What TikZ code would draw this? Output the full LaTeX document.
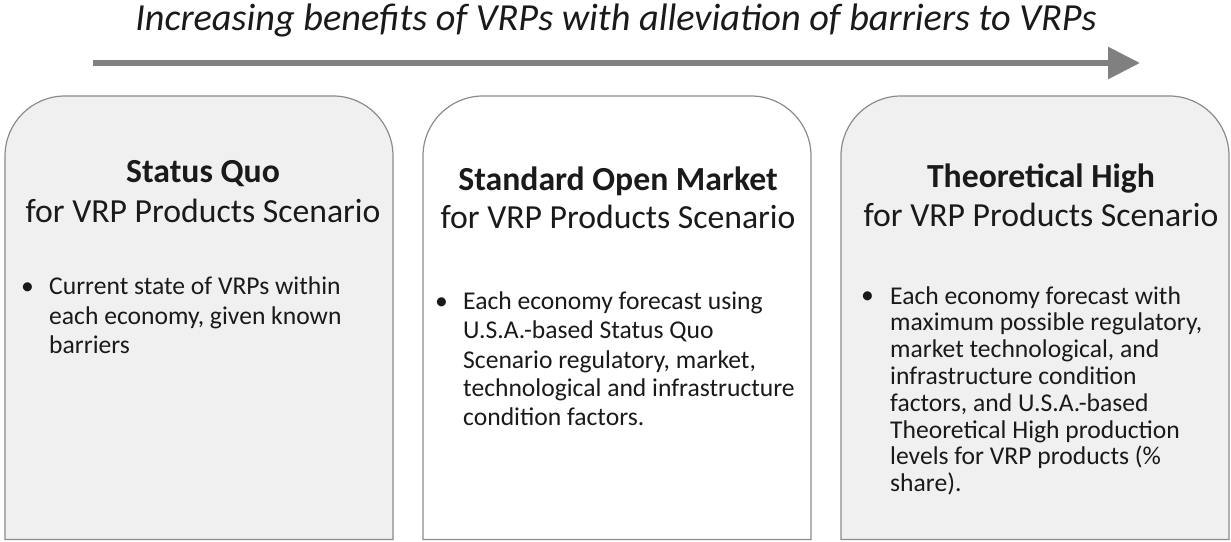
\documentclass[tikz,border=0pt]{standalone}
\usepackage{fontspec}
\setmainfont{Carlito}
\usetikzlibrary{arrows.meta}
\definecolor{panelfill}{HTML}{F0F0F0}
\definecolor{panelline}{HTML}{8C8C8C}
\definecolor{arrowgray}{HTML}{808080}
\definecolor{inktext}{HTML}{1A1A1A}
\tikzset{
  panel/.style={draw=panelline, line width=1.2pt},
  trendarrow/.style={draw=arrowgray, line width=6pt, -{Triangle[length=32pt, width=31pt]}},
  titletext/.style={font=\itshape\fontsize{38.3}{44}\selectfont, text=inktext, inner sep=0pt, anchor=base},
  headmain/.style={font=\bfseries\fontsize{33.7}{40}\selectfont, text=inktext, inner sep=0pt, anchor=base},
  headsub/.style={font=\fontsize{33.7}{40}\selectfont, text=inktext, inner sep=0pt, anchor=base},
  bulletmark/.style={font=\fontsize{25.6}{29}\selectfont, text=inktext, inner sep=0pt, anchor=base west},
  % anchored at the baseline of the last line
  bullettext/.style={font=\fontsize{25.6}{#1}\selectfont, text=inktext, align=left, inner sep=0pt, anchor=base west}
}
\begin{document}
\begin{tikzpicture}[x=1pt, y=1pt]
\useasboundingbox (0,0) rectangle (1231,541);
\fill[white] (0,0) rectangle (1231,541);

% trend arrow across the top
\coordinate (arrowstart) at (93,478);
\coordinate (arrowend) at (1140,478);
\draw[trendarrow] (arrowstart) -- (arrowend);
\node[titletext] (title) at (616,510) {Increasing benefits of VRPs with alleviation of barriers to VRPs};

% three scenario panels, rounded at the top only
\draw[panel, fill=panelfill] (5,1.5) -- (5,385) arc[start angle=180, end angle=90, radius=60]
  -- (333,445) arc[start angle=90, end angle=0, radius=60] -- (393,1.5) -- cycle;
\draw[panel, fill=white] (423,1.5) -- (423,385) arc[start angle=180, end angle=90, radius=60]
  -- (751,445) arc[start angle=90, end angle=0, radius=60] -- (811,1.5) -- cycle;
\draw[panel, fill=panelfill] (841,1.5) -- (841,385) arc[start angle=180, end angle=90, radius=60]
  -- (1169,445) arc[start angle=90, end angle=0, radius=60] -- (1229,1.5) -- cycle;

% status quo
\node[headmain] (sqhead) at (203,358) {Status Quo};
\node[headsub] (sqsub) at (203,318) {for VRP Products Scenario};
\node[bulletmark] (sqdot) at (21,246) {•};
\node[bullettext=29.5] (sqtext) at (49,187) {Current state of VRPs within\\each economy, given known\\barriers};

% standard open market
\node[headmain] (omhead) at (618,350) {Standard Open Market};
\node[headsub] (omsub) at (618,312) {for VRP Products Scenario};
\node[bulletmark] (omdot) at (435,231) {•};
\node[bullettext=29] (omtext) at (463,115) {Each economy forecast using\\U.S.A.-based Status Quo\\Scenario regulatory, market,\\technological and infrastructure\\condition factors.};

% theoretical high
\node[headmain] (thhead) at (1041,353) {Theoretical High};
\node[headsub] (thsub) at (1041,314) {for VRP Products Scenario};
\node[bulletmark] (thdot) at (861,237) {•};
\node[bullettext=26.8] (thtext) at (890,49.4) {Each economy forecast with\\maximum possible regulatory,\\market technological, and\\infrastructure condition\\factors, and U.S.A.-based\\Theoretical High production\\levels for VRP products (\%\\share).};
\end{tikzpicture}
\end{document}
